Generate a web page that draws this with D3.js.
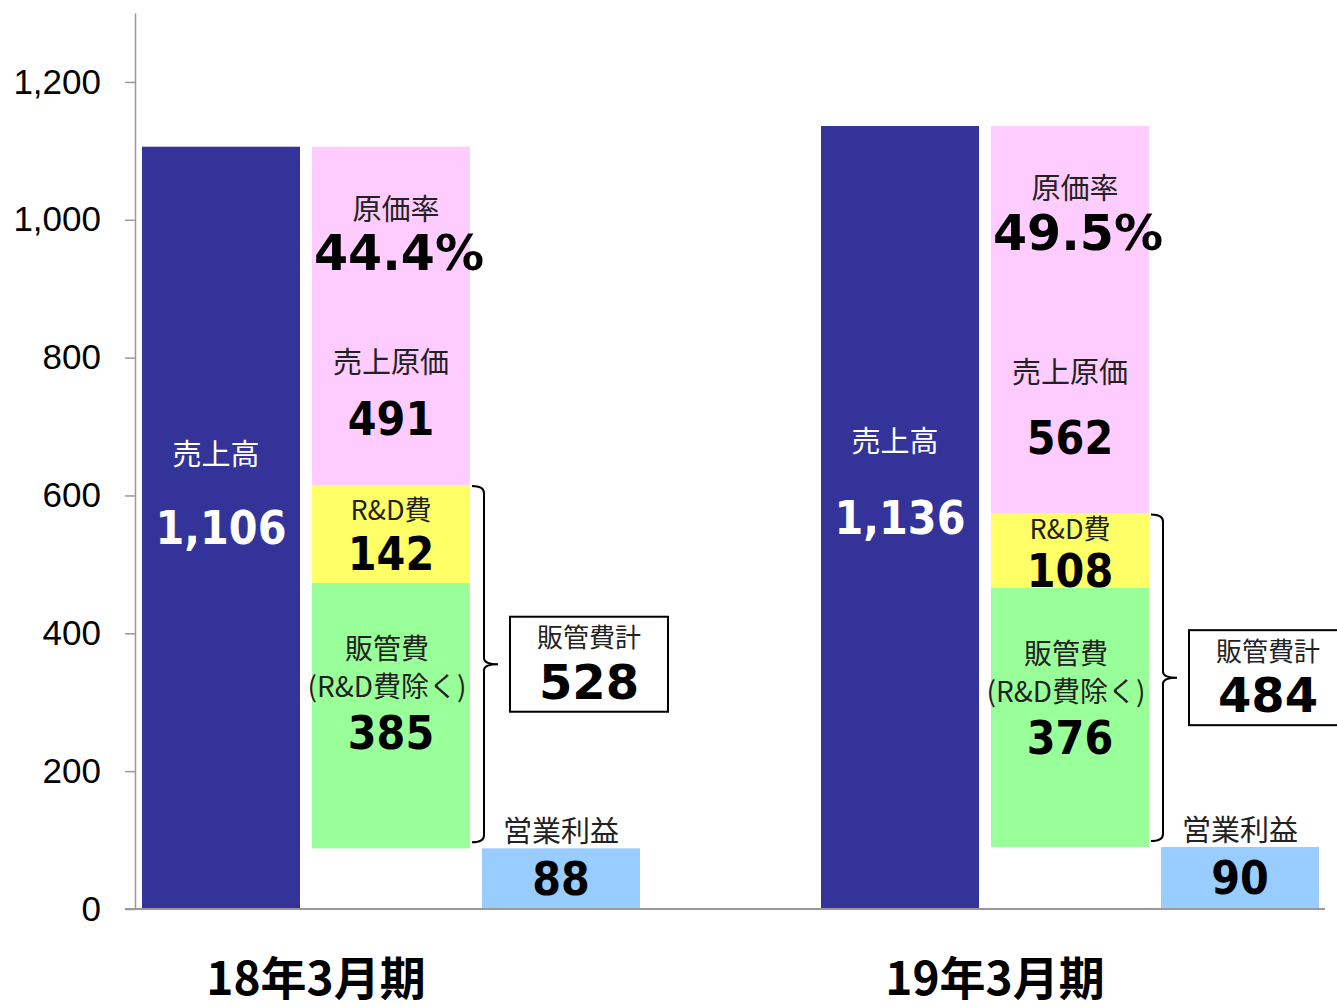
<!DOCTYPE html>
<html>
<head>
<meta charset="utf-8">
<script src="https://cdn.jsdelivr.net/npm/d3@7"></script>
<style>
  body { margin: 0; background: #fff; }
  #chart { width: 1337px; height: 1007px; }
  .jp { font-family: "Noto Sans CJK JP", sans-serif; }
  .num { font-family: "DejaVu Sans Condensed", "DejaVu Sans", sans-serif; font-weight: bold; }
  .wide { font-family: "DejaVu Sans", sans-serif; font-weight: bold; }
</style>
</head>
<body>
<div id="chart"></div>
<script>
const periods = ["18年3月期", "19年3月期"];
const sales = [1106, 1136];
const cogs = [491, 562];
const rnd = [142, 108];
const sga = [385, 376];
const sgaTotal = [528, 484];
const opProfit = [88, 90];
const costRatio = ["44.4%", "49.5%"];
const yTicks = [0, 200, 400, 600, 800, 1000, 1200];

function renderChart(selector) {
    d3.select(selector).html("");
    const W = 1337, H = 1007;

    const svg = d3.select(selector).append("svg")
        .attr("width", W)
        .attr("height", H)
        .attr("viewBox", `0 0 ${W} ${H}`);

    const y = d3.scaleLinear().domain([0, 1300]).range([909, 13]);

    const x = d3.scaleBand()
        .domain(periods)
        .range([142, 1319])
        .paddingInner(0.2666)
        .paddingOuter(0);

    const sub = d3.scaleBand()
        .domain(["sales", "cost", "op"])
        .range([0, x.bandwidth()])
        .paddingInner(0.0706)
        .paddingOuter(0);

    const bw = sub.bandwidth();

    // y axis
    const yAxis = svg.append("g")
        .attr("transform", "translate(135,0)")
        .call(d3.axisLeft(y).tickValues(yTicks).tickSize(10).tickSizeOuter(0).tickPadding(24)
            .tickFormat(d3.format(",")));
    yAxis.select(".domain").attr("stroke", "#999").attr("stroke-width", 1.5);
    yAxis.selectAll(".tick line").attr("stroke", "#999").attr("stroke-width", 1.5);
    yAxis.selectAll(".tick text")
        .attr("fill", "#000")
        .style("font-family", "'Liberation Sans', Arial, sans-serif")
        .style("font-size", "35px");

    const rows = periods.map((p, i) => {
        const x0 = x(p);
        const base = opProfit[i];
        return {
            period: p, i, x0,
            segs: [
                {key: "sales", x: x0 + sub("sales"), y0: 0, y1: sales[i], fill: "#333399"},
                {key: "sga", x: x0 + sub("cost"), y0: base, y1: base + sga[i], fill: "#99ff99"},
                {key: "rnd", x: x0 + sub("cost"), y0: base + sga[i], y1: base + sga[i] + rnd[i], fill: "#ffff66"},
                {key: "cogs", x: x0 + sub("cost"), y0: base + sga[i] + rnd[i], y1: base + sga[i] + rnd[i] + cogs[i], fill: "#ffccff"},
                {key: "op", x: x0 + sub("op"), y0: 0, y1: opProfit[i], fill: "#99ccff"}
            ]
        };
    });

    const allSegs = rows.flatMap(r => r.segs.map(s => Object.assign({i: r.i}, s)));

    svg.selectAll(".bar")
        .data(allSegs)
        .enter()
        .append("rect")
        .attr("class", "bar")
        .attr("x", d => d.x)
        .attr("y", d => y(d.y1))
        .attr("width", bw)
        .attr("height", d => y(d.y0) - y(d.y1))
        .attr("fill", d => d.fill);

    // x baseline
    svg.append("line")
        .attr("x1", 125).attr("x2", 1325)
        .attr("y1", y(0)).attr("y2", y(0))
        .attr("stroke", "#999").attr("stroke-width", 2);

    const addText = (g, cls, px, cx, cy, txt, fill) => g.append("text")
        .attr("class", cls)
        .attr("x", cx).attr("y", cy)
        .attr("text-anchor", "middle")
        .attr("dominant-baseline", "central")
        .attr("fill", fill || "#000")
        .style("font-size", px + "px")
        .text(txt);

    const fmt = d3.format(",");

    rows.forEach(r => {
        const i = r.i;
        const g = svg.append("g");
        const seg = k => r.segs.find(s => s.key === k);

        // sales
        const s = seg("sales");
        const sTop = y(s.y1), sBot = y(s.y0);
        const sc = s.x + bw / 2;
        addText(g, "jp", 29, sc - 5, sTop + (sBot - sTop) * 0.40, "売上高", "#fff");
        addText(g, "num", 46, sc, sTop + (sBot - sTop) * 0.50, fmt(sales[i]), "#fff");

        // cogs
        const c = seg("cogs");
        const cTop = y(c.y1), cBot = y(c.y0);
        const cc = c.x + bw / 2;
        addText(g, "jp", 29, cc + 5, cTop + 60, "原価率", "#222");
        addText(g, "wide", 49, cc + 8, cTop + 107, costRatio[i]);
        addText(g, "jp", 29, cc, cTop + (cBot - cTop) * 0.63, "売上原価", "#222");
        addText(g, "num", 46, cc, cTop + (cBot - cTop) * 0.805, fmt(cogs[i]));

        // R&D
        const d = seg("rnd");
        const dTop = y(d.y1), dH = y(d.y0) - y(d.y1);
        addText(g, "jp", 27, cc, dTop + 0.39 * dH - 15, "R&D費", "#222");
        addText(g, "num", 46, cc, dTop + 0.48 * dH + 22, fmt(rnd[i]));

        // SGA
        const a = seg("sga");
        const aTop = y(a.y1);
        addText(g, "jp", 28, cc - 4, aTop + 64, "販管費", "#222");
        addText(g, "jp", 28, cc - 4, aTop + 102, "(R&D費除く)", "#222");
        addText(g, "num", 46, cc, aTop + 150, fmt(sga[i]));

        // operating profit
        const o = seg("op");
        const oTop = y(o.y1);
        const oc = o.x + bw / 2;
        addText(g, "jp", 29, oc, oTop - 19, "営業利益", "#222");
        addText(g, "num", 46, oc, oTop + 31, fmt(opProfit[i]));

        // brace for SGA total
        const bx0 = c.x + bw + 2, bxl = bx0 + 12, bxt = bx0 + 26;
        const by1 = y(d.y1) + 1, by2 = y(o.y1) - 6;
        const tip = (by1 + by2) / 2;
        g.append("path")
            .attr("d", `M${bx0},${by1} Q${bxl},${by1} ${bxl},${by1 + 7} L${bxl},${tip - 6} Q${bxl},${tip} ${bxt},${tip} Q${bxl},${tip} ${bxl},${tip + 6} L${bxl},${by2 - 7} Q${bxl},${by2} ${bx0},${by2}`)
            .attr("fill", "none")
            .attr("stroke", "#000")
            .attr("stroke-width", 2);

        // total box
        const boxX = bxt + 12, boxH = 95;
        const boxY = tip - boxH / 2;
        g.append("rect")
            .attr("x", boxX).attr("y", boxY)
            .attr("width", bw).attr("height", boxH)
            .attr("fill", "#fff").attr("stroke", "#000").attr("stroke-width", 2);
        addText(g, "jp", 26, boxX + bw / 2, boxY + 19, "販管費計", "#222");
        addText(g, "wide", 48, boxX + bw / 2, boxY + 65, fmt(sgaTotal[i]));

        // period label
        const lx = (s.x + c.x + bw) / 2 + 10;
        addText(g, "jp", 46, lx, 975, r.period).style("font-weight", "bold");
    });
}

renderChart("#chart");
</script>
</body>
</html>
